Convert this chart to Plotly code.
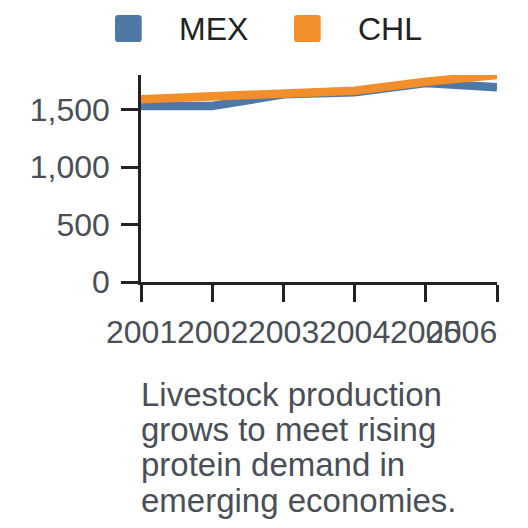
import plotly.graph_objects as go

years = [2001, 2002, 2003, 2004, 2005, 2006]
mex = [1530, 1530, 1632, 1650, 1730, 1693]
chl = [1590, 1610, 1638, 1663, 1742, 1800]
y_ticks = [0, 500, 1000, 1500]
caption = ["Livestock production", "grows to meet rising",
           "protein demand in", "emerging economies."]

blue = "#4e79a7"
orange = "#f28e2b"
gray = "#4a4f57"
font = "Liberation Sans, Arial, sans-serif"


def rounded_rect(x0, x1, y0, y1, rx=0.009, ry=0.015):
    # small rounded square for the hand-made legend swatch
    return (f"M {x0 + rx},{y0} L {x1 - rx},{y0} Q {x1},{y0} {x1},{y0 + ry} "
            f"L {x1},{y1 - ry} Q {x1},{y1} {x1 - rx},{y1} "
            f"L {x0 + rx},{y1} Q {x0},{y1} {x0},{y1 - ry} "
            f"L {x0},{y0 + ry} Q {x0},{y0} {x0 + rx},{y0} Z")


fig = go.Figure()
fig.add_trace(go.Scatter(x=years, y=mex, mode="lines", name="MEX",
                         line=dict(color=blue, width=8.5), showlegend=False))
fig.add_trace(go.Scatter(x=years, y=chl, mode="lines", name="CHL",
                         line=dict(color=orange, width=8.5), showlegend=False))

# x tick labels (last one flush right like the source)
for i, yr in enumerate(years):
    last = i == len(years) - 1
    fig.add_annotation(x=yr, y=-0.24, xref="x", yref="paper", text=str(yr),
                       showarrow=False, yanchor="middle",
                       xanchor="right" if last else "center",
                       xshift=2 if last else 0,
                       font=dict(size=32, color=gray, family=font))

# caption lines
for i, line in enumerate(caption):
    fig.add_annotation(x=0, y=-0.543 - i * 0.1703, xref="paper", yref="paper",
                       text=line, showarrow=False, xanchor="left", yanchor="middle",
                       xshift=-2, font=dict(size=33, color=gray, family=font))

# legend drawn by hand: square swatches + labels
for x0, col, name, tx in [(-0.073, blue, "MEX", 0.1067), (0.4298, orange, "CHL", 0.6096)]:
    fig.add_shape(type="path", xref="paper", yref="paper",
                  path=rounded_rect(x0, x0 + 0.075, 1.159, 1.290),
                  fillcolor=col, line=dict(width=0))
    fig.add_annotation(x=tx, y=1.221, xref="paper", yref="paper", text=name,
                       showarrow=False, xanchor="left", yanchor="middle", xshift=-2,
                       font=dict(size=32, color="#222222", family=font))

fig.update_layout(
    width=528, height=528,
    margin=dict(l=141, r=31, t=75, b=246),
    paper_bgcolor="white", plot_bgcolor="white",
    font=dict(family=font, size=32, color=gray),
)
fig.update_xaxes(range=[2001, 2006], showgrid=False, zeroline=False,
                 showline=True, linecolor="#222222", linewidth=2.5,
                 ticks="outside", ticklen=17, tickwidth=2.5, tickcolor="#222222",
                 tickvals=years, showticklabels=False)
fig.update_yaxes(range=[0, 1800], showgrid=False, zeroline=False,
                 showline=True, linecolor="#222222", linewidth=2.5,
                 ticks="outside", ticklen=17, tickwidth=2.5, tickcolor="#222222",
                 tickvals=y_ticks, tickformat=",", ticklabelstandoff=5,
                 tickfont=dict(size=32, color=gray, family=font))

fig.write_html("out.html", config={"displayModeBar": False},
               post_script="document.body.style.margin='0';")
